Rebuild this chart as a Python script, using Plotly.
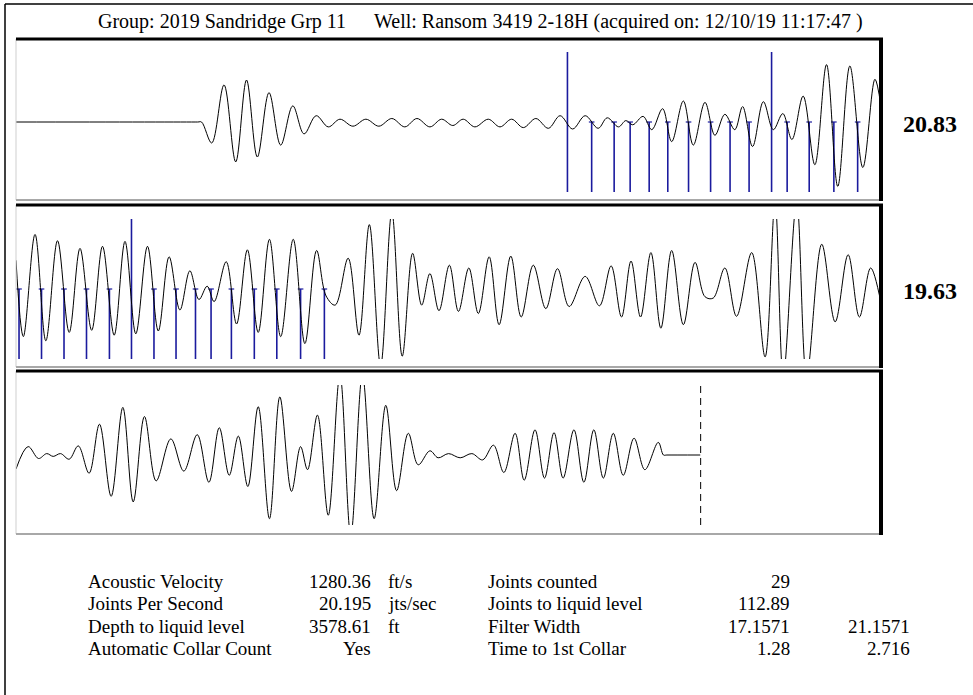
import plotly.graph_objects as go

# ---------------- data ----------------
title_group = "Group: 2019 Sandridge Grp 11"
title_well = "Well: Ransom 3419 2-18H (acquired on: 12/10/19 11:17:47 )"

# panel 1 : 0 - 2 s
p1_t = [0.000, 0.420, 0.429, 0.4525, 0.481, 0.508, 0.533, 0.558, 0.585, 0.612, 0.640, 0.666,
        0.694, 0.722, 0.749, 0.779, 0.809, 0.839, 0.869, 0.899, 0.927, 0.957, 0.984, 1.010,
        1.034, 1.061, 1.092, 1.119, 1.146, 1.173, 1.202, 1.231, 1.258, 1.287, 1.316, 1.346,
        1.367, 1.393, 1.410, 1.426, 1.450, 1.470, 1.495, 1.516, 1.543, 1.566, 1.593, 1.616,
        1.639, 1.662, 1.680, 1.703, 1.728, 1.751, 1.773, 1.794, 1.820, 1.847, 1.874, 1.900,
        1.928, 1.958, 1.986, 2.000]
p1_a = [0, 0, 0, -0.30, 0.53, -0.57, 0.60, -0.50, 0.42, -0.33, 0.23, -0.17,
        0.09, -0.07, 0.04, -0.06, 0.04, -0.06, 0.05, -0.07, 0.05, -0.07, 0.04, -0.05,
        0.04, -0.07, 0.04, -0.07, 0.04, -0.08, 0.05, -0.09, 0.09, -0.10, 0.09, -0.09,
        0.06, -0.07, 0.02, -0.04, 0.08, -0.11, 0.19, -0.28, 0.30, -0.33, 0.28, -0.19,
        0.11, -0.11, 0.22, -0.35, 0.29, -0.11, 0.12, -0.25, 0.37, -0.61, 0.82, -0.92,
        0.80, -0.65, 0.61, 0.22]

# panel 2 : 2 - 4 s
p2_t = [2.000, 2.017, 2.044, 2.069, 2.096, 2.123, 2.148, 2.175, 2.200, 2.227, 2.252, 2.277,
        2.304, 2.329, 2.354, 2.379, 2.402, 2.423, 2.442, 2.458, 2.486, 2.510, 2.535, 2.560,
        2.586, 2.612, 2.641, 2.668, 2.695, 2.717, 2.738, 2.768, 2.793, 2.817, 2.843, 2.869,
        2.893, 2.917, 2.938, 2.957, 2.978, 3.002, 3.023, 3.047, 3.069, 3.094, 3.117, 3.144,
        3.168, 3.196, 3.225, 3.252, 3.279, 3.316, 3.349, 3.376, 3.400, 3.422, 3.444, 3.468,
        3.491, 3.516, 3.543, 3.570, 3.593, 3.612, 3.639, 3.666, 3.701, 3.732, 3.755, 3.774,
        3.805, 3.828, 3.863, 3.894, 3.924, 3.950, 3.976, 4.000]
p2_a = [0.41, -0.68, 0.78, -0.74, 0.69, -0.62, 0.58, -0.59, 0.61, -0.66, 0.68, -0.64,
        0.61, -0.60, 0.46, -0.30, 0.26, -0.15, 0.04, -0.18, 0.39, -0.50, 0.56, -0.62,
        0.71, -0.68, 0.71, -0.78, 0.55, -0.10, -0.23, 0.44, -0.66, 0.92, -1.10, 1.10,
        -0.96, 0.51, -0.23, 0.22, -0.31, 0.34, -0.32, 0.30, -0.35, 0.46, -0.51, 0.47,
        -0.40, 0.34, -0.28, 0.29, -0.25, 0.18, -0.24, 0.33, -0.40, 0.40, -0.40, 0.52,
        -0.56, 0.55, -0.51, 0.38, -0.11, -0.13, 0.30, -0.39, 0.52, -0.97, 1.25, -1.25,
        1.25, -1.25, 0.64, -0.47, 0.49, -0.40, 0.30, -0.20]

# panel 3 : 4 - 6 s
p3_t = [4.000, 4.028, 4.052, 4.071, 4.086, 4.103, 4.123, 4.144, 4.169, 4.193, 4.220, 4.247,
        4.271, 4.297, 4.324, 4.358, 4.388, 4.419, 4.446, 4.470, 4.493, 4.514, 4.536, 4.560,
        4.586, 4.610, 4.637, 4.658, 4.674, 4.697, 4.722, 4.749, 4.774, 4.801, 4.828, 4.855,
        4.880, 4.907, 4.930, 4.957, 4.976, 5.000, 5.027, 5.054, 5.079, 5.104, 5.128, 5.154,
        5.175, 5.200, 5.222, 5.244, 5.265, 5.290, 5.313, 5.336, 5.358, 5.381, 5.404, 5.429,
        5.454, 5.485, 5.497, 5.505, 5.582]
p3_a = [-0.20, 0.12, -0.05, 0.02, -0.02, 0.02, -0.06, 0.13, -0.26, 0.44, -0.59, 0.68,
        -0.67, 0.55, -0.37, 0.23, -0.23, 0.29, -0.39, 0.39, -0.29, 0.27, -0.45, 0.69,
        -0.91, 0.83, -0.52, 0.12, -0.21, 0.57, -0.86, 1.15, -1.15, 1.15, -0.91, 0.71,
        -0.51, 0.31, -0.14, 0.06, -0.04, 0.02, -0.04, 0.02, -0.07, 0.14, -0.25, 0.31,
        -0.36, 0.36, -0.33, 0.32, -0.33, 0.36, -0.39, 0.36, -0.33, 0.31, -0.29, 0.24,
        -0.21, 0.18, 0.0, 0.0, 0.0]

collar_times = [1.275, 1.331, 1.383, 1.420, 1.464, 1.507, 1.555, 1.606, 1.651, 1.695,
                1.747, 1.783, 1.834, 1.891, 1.946, 2.007, 2.059, 2.111, 2.163, 2.216,
                2.267, 2.319, 2.370, 2.415, 2.451, 2.498, 2.551, 2.603, 2.658, 2.713]
tall_collar_every = 10
liquid_level_time = 5.583

panel_labels = ["20.83", "19.63", ""]

table_labels_1 = ["Acoustic Velocity", "Joints Per Second", "Depth to liquid level", "Automatic Collar Count"]
table_values_1 = ["1280.36", "20.195", "3578.61", "Yes"]
table_units_1 = ["ft/s", "jts/sec", "ft", ""]
table_labels_2 = ["Joints counted", "Joints to liquid level", "Filter Width", "Time to 1st Collar"]
table_values_2 = ["29", "112.89", "17.1571", "1.28"]
table_values_3 = ["", "", "21.1571", "2.716"]

# ---------------- layout helpers ----------------
W, H = 973, 695
FONT = "Liberation Serif, Times New Roman, Times, serif"
BLUE = "#1b1b9e"


def px(x):
    return x / W


def py(y):
    return 1 - y / H


# (t0, t1, data_top_px, data_bottom_px, box_top_px, box_bottom_px)
panels = [(0, 2, 52, 192, 39, 200),
          (2, 4, 219, 359, 205, 367),
          (4, 6, 385, 525, 371, 534)]
X0, X1 = 16, 881
waves = [(p1_t, p1_a), (p2_t, p2_a), (p3_t, p3_a)]

fig = go.Figure()
layout_axes = {}
shapes = []
annotations = []

for i, (t0, t1, dtop, dbot, btop, bbot) in enumerate(panels):
    n = "" if i == 0 else str(i + 1)
    xa, ya = "x" + n, "y" + n
    layout_axes["xaxis" + n] = dict(domain=[px(X0), px(X1)], range=[t0, t1], visible=False,
                                    anchor=ya, fixedrange=True)
    layout_axes["yaxis" + n] = dict(domain=[py(dbot), py(dtop)], range=[-1, 1], visible=False,
                                    anchor=xa, fixedrange=True)

    # collar markers in this panel
    mx, my, sx, sy = [], [], [], []
    for k, tc in enumerate(collar_times):
        if t0 <= tc < t1:
            top = 1 if k % tall_collar_every == 0 else 0
            mx += [tc, tc, None]
            my += [top, -1, None]
            if top == 0:
                sx.append(tc)
                sy.append(0)
    if mx:
        fig.add_trace(go.Scatter(x=mx, y=my, mode="lines", xaxis=xa, yaxis=ya,
                                 line=dict(color=BLUE, width=1.6), hoverinfo="skip",
                                 showlegend=False))
        fig.add_trace(go.Scatter(x=sx, y=sy, mode="markers", xaxis=xa, yaxis=ya,
                                 marker=dict(symbol="line-ew", size=4,
                                             line=dict(color=BLUE, width=1.2)),
                                 hoverinfo="skip", showlegend=False))

    wt, wa = waves[i]
    fig.add_trace(go.Scatter(x=wt, y=wa, mode="lines", xaxis=xa, yaxis=ya,
                             line=dict(color="black", width=1, shape="spline", smoothing=1),
                             hoverinfo="skip", showlegend=False))

    if t0 <= liquid_level_time < t1:
        fig.add_trace(go.Scatter(x=[liquid_level_time, liquid_level_time], y=[-1, 1],
                                 mode="lines", xaxis=xa, yaxis=ya,
                                 line=dict(color="black", width=1, dash="7px,5px"),
                                 hoverinfo="skip", showlegend=False))

    # panel frame
    shapes += [
        dict(type="line", xref="paper", yref="paper", x0=px(X0), x1=px(X0),
             y0=py(btop), y1=py(bbot), line=dict(color="#cfcfcf", width=1)),
        dict(type="line", xref="paper", yref="paper", x0=px(X0), x1=px(X1),
             y0=py(bbot), y1=py(bbot), line=dict(color="#a8a8a8", width=2)),
        dict(type="line", xref="paper", yref="paper", x0=px(X0), x1=px(X1 + 2),
             y0=py(btop), y1=py(btop), line=dict(color="black", width=3)),
        dict(type="line", xref="paper", yref="paper", x0=px(X1), x1=px(X1),
             y0=py(btop), y1=py(bbot + 1), line=dict(color="black", width=4)),
    ]

    if panel_labels[i]:
        annotations.append(dict(text="<b>" + panel_labels[i] + "</b>", xref="paper", yref="paper",
                                x=px(930), y=py((dtop + dbot) / 2 + 2), xanchor="center",
                                yanchor="middle", showarrow=False,
                                font=dict(family=FONT, size=24, color="black")))

# outer frame (left and top edges)
shapes += [
    dict(type="line", xref="paper", yref="paper", x0=px(5), x1=px(5), y0=py(4), y1=py(700),
         line=dict(color="black", width=1.5)),
    dict(type="line", xref="paper", yref="paper", x0=px(5), x1=px(980), y0=py(4), y1=py(4),
         line=dict(color="black", width=1.5)),
]

# title
annotations += [
    dict(text=title_group, xref="paper", yref="paper", x=px(96), y=py(22), xanchor="left",
         yanchor="middle", showarrow=False, font=dict(family=FONT, size=20, color="black")),
    dict(text=title_well, xref="paper", yref="paper", x=px(372), y=py(22), xanchor="left",
         yanchor="middle", showarrow=False, font=dict(family=FONT, size=20, color="black")),
]

# table
row_y = [581, 603.5, 626, 648.5]


def cell(text, x, y, anchor):
    return dict(text=text, xref="paper", yref="paper", x=px(x), y=py(y), xanchor=anchor,
                yanchor="middle", showarrow=False, font=dict(family=FONT, size=19, color="black"))


for r, y in enumerate(row_y):
    annotations.append(cell(table_labels_1[r], 86, y, "left"))
    annotations.append(cell(table_values_1[r], 373, y, "right"))
    if table_units_1[r]:
        annotations.append(cell(table_units_1[r], 386, y, "left"))
    annotations.append(cell(table_labels_2[r], 486, y, "left"))
    annotations.append(cell(table_values_2[r], 792, y, "right"))
    if table_values_3[r]:
        annotations.append(cell(table_values_3[r], 912, y, "right"))

fig.update_layout(width=W, height=H, margin=dict(l=0, r=0, t=0, b=0),
                  paper_bgcolor="white", plot_bgcolor="white",
                  shapes=shapes, annotations=annotations, showlegend=False,
                  **layout_axes)

fig.write_html("out.html", config={"displayModeBar": False},
               post_script="document.body.style.margin='0';document.body.style.overflow='hidden';")
